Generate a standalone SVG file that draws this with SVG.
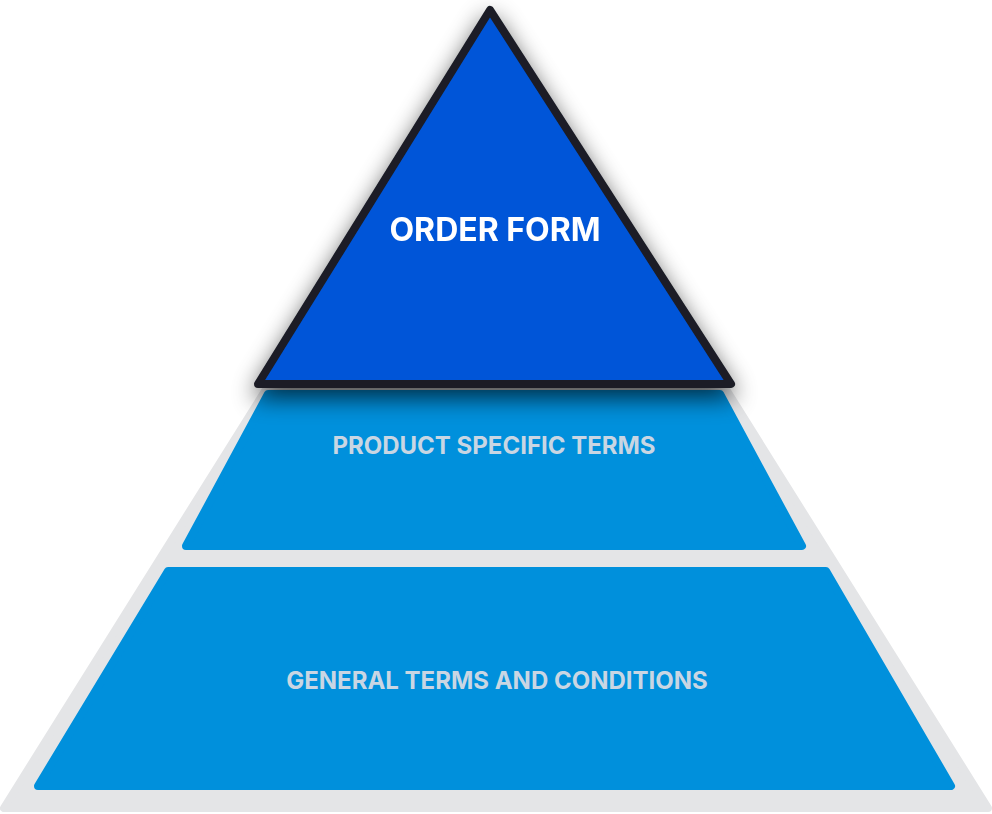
<svg xmlns="http://www.w3.org/2000/svg" width="992" height="814" viewBox="0 0 992 814">
<style>
.tier{fill:#0090dc;stroke:#0090dc;stroke-width:8;stroke-linejoin:round}
.lbl{font-family:"Inter","Liberation Sans",sans-serif;font-weight:700;fill:#c9d6e3;text-anchor:middle}
</style>
<defs>
<filter id="sh" x="-20%" y="-20%" width="140%" height="160%">
<feGaussianBlur in="SourceAlpha" stdDeviation="12"/>
<feOffset dy="10"/>
<feComponentTransfer><feFuncA type="linear" slope="0.7"/></feComponentTransfer>
<feMerge><feMergeNode/><feMergeNode in="SourceGraphic"/></feMerge>
</filter>
</defs>
<g id="base"><polygon points="496,22 4,808 988,808" fill="#e4e5e7" stroke="#e4e5e7" stroke-width="8" stroke-linejoin="round"/></g>
<g id="general"><polygon class="tier" points="168,571 826,571 951,786 38,786"/>
<text class="lbl" x="497" y="689" font-size="24">GENERAL TERMS AND CONDITIONS</text></g>
<g id="product"><polygon class="tier" points="268,394 720,394 802,546 186,546"/>
<text class="lbl" x="494" y="454" font-size="24">PRODUCT SPECIFIC TERMS</text></g>
<g id="order" filter="url(#sh)"><polygon points="490,10 731,384 258,384" fill="#0055d8" stroke="#1b1d26" stroke-width="8" stroke-linejoin="round"/>
<text x="495" y="241" font-size="32" font-family="Inter,'Liberation Sans',sans-serif" font-weight="700" fill="#ffffff" text-anchor="middle">ORDER FORM</text></g>
<g id="connectors"/>
</svg>
